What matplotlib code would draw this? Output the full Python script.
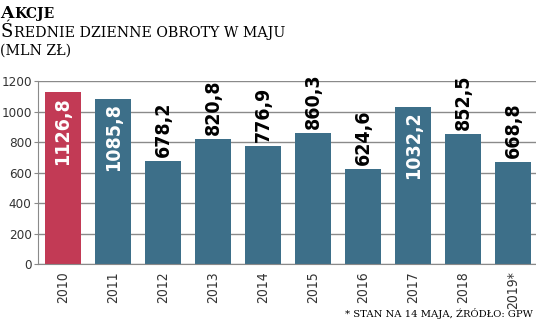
import matplotlib
matplotlib.use('Agg')
import matplotlib.pyplot as plt
from matplotlib import font_manager

# dane
years = ['2010', '2011', '2012', '2013', '2014', '2015', '2016', '2017', '2018', '2019*']
values = [1126.8, 1085.8, 678.2, 820.8, 776.9, 860.3, 624.6, 1032.2, 852.5, 668.8]
labels = ['1126,8', '1085,8', '678,2', '820,8', '776,9', '860,3', '624,6', '1032,2', '852,5', '668,8']
inside = [True, True, False, False, False, False, False, True, False, False]

red = '#c23a55'
blue = '#3d6f89'
grid = '#8a8a8a'


def cond_font(weight, size):
    # DejaVu Sans Condensed, wersja prosta (nie oblique)
    for f in font_manager.fontManager.ttflist:
        if (f.name == 'DejaVu Sans' and f.stretch == 'condensed'
                and f.weight == weight and f.style == 'normal'):
            return font_manager.FontProperties(fname=f.fname, size=size)
    return font_manager.FontProperties(family='DejaVu Sans', size=size)


lab_font = cond_font(700, 14)
tick_font = cond_font(400, 10)
ytick_font = cond_font(400, 9.6)

fig = plt.figure(figsize=(5.36, 3.22), dpi=100)
ax = fig.add_axes([0.071, 0.180, 0.933, 0.568])

colors = [red] + [blue] * (len(values) - 1)
x = range(len(values))
ax.bar(x, values, width=0.72, color=colors, zorder=2)

for i, (v, lab, ins) in enumerate(zip(values, labels, inside)):
    if ins:
        ax.text(i, v - 30, lab, rotation=90, ha='center', va='top', color='white',
                fontproperties=lab_font, zorder=3)
    else:
        ax.text(i, v + 25, lab, rotation=90, ha='center', va='bottom', color='black',
                fontproperties=lab_font, zorder=3)

ax.set_xlim(-0.5, 9.5)
ax.set_ylim(0, 1200)
ax.set_yticks(range(0, 1201, 200))
ax.yaxis.grid(True, color=grid, linewidth=1)
ax.set_axisbelow(True)
ax.set_xticks(list(x))
ax.set_xticklabels(years, rotation=90, color='#333333', fontproperties=tick_font)
for t in ax.get_yticklabels():
    t.set_fontproperties(ytick_font)
ax.tick_params(axis='x', length=0, pad=5)
ax.tick_params(axis='y', length=3, color=grid, labelcolor='#333333', pad=1.5)
for s in ['top', 'right']:
    ax.spines[s].set_visible(False)
for s in ['left', 'bottom']:
    ax.spines[s].set_color(grid)

# tytuł (kapitaliki)
fig.text(0.0, 0.944, 'A', fontsize=12.5, fontweight='bold', family='DejaVu Serif', ha='left', va='baseline')
fig.text(0.026, 0.944, 'KCJE', fontsize=10, fontweight='bold', family='DejaVu Serif', ha='left', va='baseline')
fig.text(0.0, 0.885, 'Ś', fontsize=13, family='DejaVu Serif', ha='left', va='baseline')
fig.text(0.026, 0.885, 'REDNIE DZIENNE OBROTY W MAJU', fontsize=10.2, family='DejaVu Serif', ha='left', va='baseline')
fig.text(0.0, 0.829, '(MLN ZŁ)', fontsize=10.2, family='DejaVu Serif', ha='left', va='baseline')

fig.text(0.995, 0.016, '* STAN NA 14 MAJA, ŹRÓDŁO: GPW', fontsize=7.2, family='DejaVu Serif',
         ha='right', va='baseline')

fig.savefig('out.png', dpi=100)
